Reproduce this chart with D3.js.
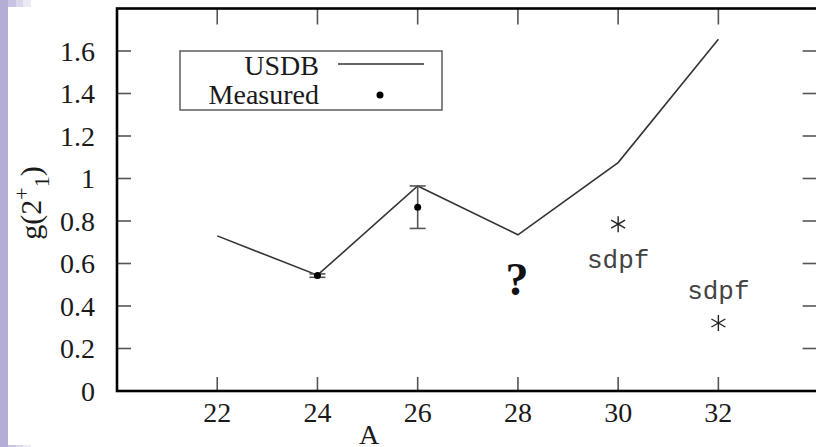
<!DOCTYPE html>
<html>
<head>
  <script src="https://d3js.org/d3.v7.min.js"></script>
  <style>
    body { margin: 0; background: #fff; }
    svg { display: block; }
    .tick-label { font-family: "Liberation Serif", "Times New Roman", serif; font-size: 28px; fill: #1a1a1a; }
    .mono { font-family: "Liberation Mono", "Courier New", monospace; font-size: 26px; fill: #444; }
  </style>
</head>
<body>
<script>
// data
var massA = [22, 24, 26, 28, 30, 32];
var usdb = [0.73, 0.545, 0.965, 0.735, 1.075, 1.655];
var measA = [24, 26];
var measured = [0.543, 0.865];
var measErr = [0.008, 0.1];
var sdpfA = [30, 32];
var sdpf = [0.785, 0.32];
var xTicks = [22, 24, 26, 28, 30, 32];
var yTicks = [0, 0.2, 0.4, 0.6, 0.8, 1, 1.2, 1.4, 1.6];

var W = 816, H = 447;
var svg = d3.select("body").append("svg").attr("width", W).attr("height", H);

// slide decoration on the left
svg.append("rect").attr("x", 0).attr("y", 0).attr("width", 8).attr("height", H).attr("fill", "#b5add6");
[["#c9c3e3", 8], ["#dbd7ed", 16], ["#ecebf5", 23]].forEach(function(d) {
  svg.append("rect").attr("x", d[1]).attr("y", 0).attr("width", 8).attr("height", 7).attr("fill", d[0]);
  svg.append("rect").attr("x", d[1]).attr("y", 445).attr("width", 8).attr("height", 2).attr("fill", d[0]);
});

var x = d3.scaleLinear().domain([20, 34]).range([117, 818.6]);
var y = d3.scaleLinear().domain([0, 1.8]).range([391, 8.5]);

var g = svg.append("g");

// ticks (mirrored on all sides)
var tickColor = "#555";
yTicks.forEach(function(t) {
  g.append("line").attr("x1", x(20)).attr("x2", x(20) + 14).attr("y1", y(t)).attr("y2", y(t))
    .attr("stroke", tickColor).attr("stroke-width", 1.6);
  g.append("line").attr("x1", x(34) - 16).attr("x2", x(34)).attr("y1", y(t)).attr("y2", y(t))
    .attr("stroke", tickColor).attr("stroke-width", 1.6);
  g.append("text").attr("class", "tick-label").attr("x", 95).attr("y", y(t) + 9.5)
    .attr("text-anchor", "end").text(t);
});
xTicks.forEach(function(t) {
  g.append("line").attr("x1", x(t)).attr("x2", x(t)).attr("y1", y(0)).attr("y2", y(0) - 14)
    .attr("stroke", tickColor).attr("stroke-width", 1.6);
  g.append("line").attr("x1", x(t)).attr("x2", x(t)).attr("y1", y(1.8)).attr("y2", y(1.8) + 16)
    .attr("stroke", tickColor).attr("stroke-width", 1.6);
  g.append("text").attr("class", "tick-label").attr("x", x(t)).attr("y", 422)
    .attr("text-anchor", "middle").text(t);
});

// frame
g.append("rect").attr("x", x(20)).attr("y", y(1.8)).attr("width", x(34) - x(20)).attr("height", y(0) - y(1.8))
  .attr("fill", "none").attr("stroke", "#000").attr("stroke-width", 2.6);

// axis titles
g.append("text").attr("class", "tick-label").attr("x", 369).attr("y", 444)
  .attr("text-anchor", "middle").text("A");
var yl = g.append("text").attr("class", "tick-label").style("font-size", "30px")
  .attr("transform", "translate(41,203) rotate(-90)").attr("text-anchor", "middle");
yl.append("tspan").text("g(2");
yl.append("tspan").attr("dy", -12).attr("font-size", 22).text("+");
yl.append("tspan").attr("dy", 20).attr("font-size", 22).text("1");
yl.append("tspan").attr("dy", -8).text(")");

// USDB line
var line = d3.line().x(function(d, i) { return x(massA[i]); }).y(function(d) { return y(d); });
g.append("path").datum(usdb).attr("d", line).attr("fill", "none")
  .attr("stroke", "#333").attr("stroke-width", 1.6);

// measured with error bars
measured.forEach(function(v, i) {
  var cx = x(measA[i]);
  var lo = y(v - measErr[i]), hi = y(v + measErr[i]);
  g.append("line").attr("x1", cx).attr("x2", cx).attr("y1", lo).attr("y2", hi)
    .attr("stroke", "#555").attr("stroke-width", 1.6);
  [lo, hi].forEach(function(yy) {
    g.append("line").attr("x1", cx - 8).attr("x2", cx + 8).attr("y1", yy).attr("y2", yy)
      .attr("stroke", "#555").attr("stroke-width", 1.6);
  });
  g.append("circle").attr("cx", cx).attr("cy", y(v)).attr("r", 3.5).attr("fill", "#000");
});

// sdpf stars
sdpf.forEach(function(v, i) {
  var cx = x(sdpfA[i]), cy = y(v), r = 8;
  [[0, -r, 0, r], [-r * 0.87, -r * 0.5, r * 0.87, r * 0.5], [-r * 0.87, r * 0.5, r * 0.87, -r * 0.5]].forEach(function(s) {
    g.append("line").attr("x1", cx + s[0]).attr("y1", cy + s[1]).attr("x2", cx + s[2]).attr("y2", cy + s[3])
      .attr("stroke", "#222").attr("stroke-width", 1.4);
  });
});
g.append("text").attr("class", "mono").attr("x", x(30)).attr("y", 268).attr("text-anchor", "middle").text("sdpf");
g.append("text").attr("class", "mono").attr("x", x(32)).attr("y", 299).attr("text-anchor", "middle").text("sdpf");

// question mark
g.append("text").attr("x", x(28) - 1).attr("y", 295).attr("text-anchor", "middle")
  .attr("font-family", "Liberation Serif, serif").attr("font-weight", "bold").attr("font-size", 46)
  .attr("fill", "#111").text("?");

// legend
var lg = g.append("g");
lg.append("rect").attr("x", 180).attr("y", 51).attr("width", 262).attr("height", 59)
  .attr("fill", "#fff").attr("stroke", "#666").attr("stroke-width", 1.6);
lg.append("text").attr("class", "tick-label").attr("x", 319).attr("y", 75).attr("text-anchor", "end").text("USDB");
lg.append("text").attr("class", "tick-label").attr("x", 319).attr("y", 104).attr("text-anchor", "end").text("Measured");
lg.append("line").attr("x1", 338).attr("x2", 424).attr("y1", 64).attr("y2", 64).attr("stroke", "#333").attr("stroke-width", 1.4);
lg.append("circle").attr("cx", 380).attr("cy", 95).attr("r", 3.5).attr("fill", "#000");
</script>
</body>
</html>
